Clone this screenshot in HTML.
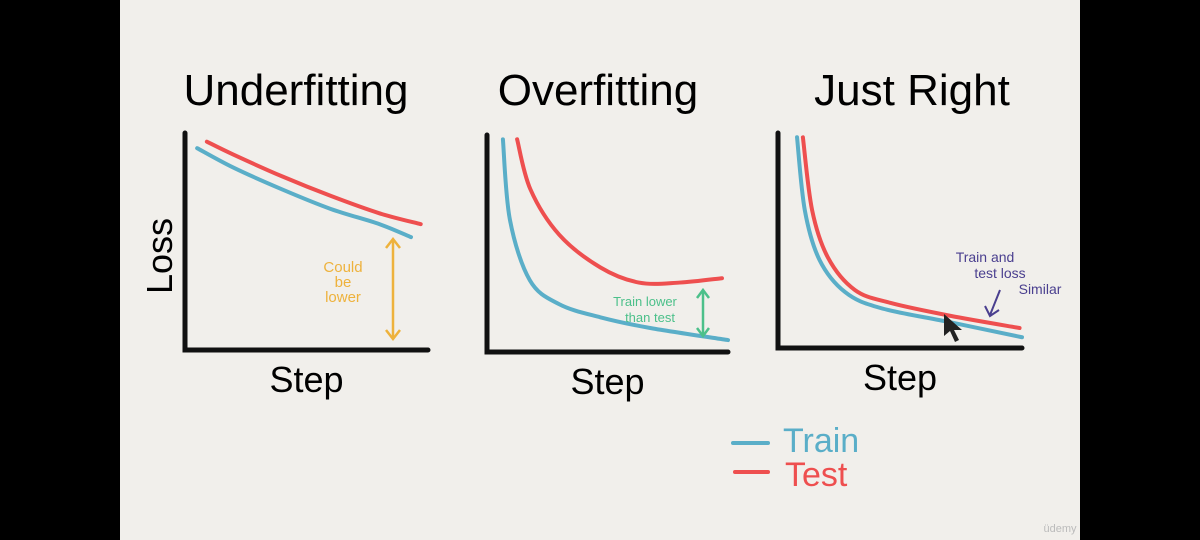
<!DOCTYPE html>
<html><head><meta charset="utf-8"><style>
html,body{margin:0;padding:0;background:#000;}
svg{display:block;}
text{font-family:"Liberation Sans",sans-serif;}
</style></head><body>
<svg id="chart" width="1200" height="540" viewBox="0 0 1200 540">
<rect x="0" y="0" width="1200" height="540" fill="#000"/>
<rect x="120" y="0" width="960" height="540" fill="#f1efeb"/>
<text x="296" y="105" font-size="44" text-anchor="middle">Underfitting</text>
<text x="598" y="105" font-size="44" text-anchor="middle">Overfitting</text>
<text x="912" y="105" font-size="44" text-anchor="middle">Just Right</text>
<text x="0" y="0" font-size="36" transform="translate(172,256) rotate(-90)" text-anchor="middle">Loss</text>
<g id="panels"></g>
<g>
<line x1="393" y1="240" x2="393" y2="338" stroke="#eeb23c" stroke-width="2.5"/>
<path d="M386 248 L393 239 L400 248 M386 330 L393 339 L400 330" fill="none" stroke="#eeb23c" stroke-width="2.5"/>
<text x="343" y="272" font-size="15" fill="#eeb23c" text-anchor="middle">Could</text>
<text x="343" y="287" font-size="15" fill="#eeb23c" text-anchor="middle">be</text>
<text x="343" y="302" font-size="15" fill="#eeb23c" text-anchor="middle">lower</text>
</g>
<g>
<line x1="703" y1="291" x2="703" y2="335" stroke="#4cc08a" stroke-width="2.5"/>
<path d="M697 298 L703 290 L709 298 M697 328 L703 336 L709 328" fill="none" stroke="#4cc08a" stroke-width="2.5"/>
<text x="645" y="306" font-size="13" fill="#4cc08a" text-anchor="middle">Train lower</text>
<text x="650" y="322" font-size="13" fill="#4cc08a" text-anchor="middle">than test</text>
</g>
<g>
<text x="985" y="262" font-size="14" fill="#4a3f8f" text-anchor="middle">Train and</text>
<text x="1000" y="278" font-size="14" fill="#4a3f8f" text-anchor="middle">test loss</text>
<text x="1040" y="294" font-size="14" fill="#4a3f8f" text-anchor="middle">Similar</text>
<path d="M1000 290 L990 315 M985 306 L990 316 L999 310" fill="none" stroke="#4a3f8f" stroke-width="2"/>
</g>
<path d="M944 314 L944 336 L950 331 L955 342 L959 340 L954 330 L962 330 Z" fill="#222"/>
<g>
<line x1="733" y1="443" x2="768" y2="443" stroke="#5aaec8" stroke-width="4" stroke-linecap="round"/>
<text x="783" y="452" font-size="34" fill="#5aaec8">Train</text>
<line x1="735" y1="472" x2="768" y2="472" stroke="#ee4f4f" stroke-width="4" stroke-linecap="round"/>
<text x="785" y="486" font-size="34" fill="#ee4f4f">Test</text>
</g>
<text x="1060" y="532" font-size="11" fill="#bbb" text-anchor="middle">üdemy</text>
</svg>
<script>
// Underfitting
const p1TrainSteps=[0.5,2,4,6,8,9.3];
const p1TrainLoss=[9.3,8.4,7.4,6.5,5.8,5.2];
const p1TestSteps=[0.9,2,4,6,8,9.7];
const p1TestLoss=[9.6,9.0,8.0,7.1,6.3,5.8];
// Overfitting
const p2TrainSteps=[0.66,0.95,1.78,3.0,4.7,6.8,10];
const p2TrainLoss=[9.8,6.1,3.3,2.2,1.6,1.1,0.55];
const p2TestSteps=[1.25,1.8,3.0,4.7,6.3,8.0,9.75];
const p2TestLoss=[9.8,7.5,5.4,3.9,3.2,3.2,3.4];
// Just right
const p3TrainSteps=[0.78,1.1,1.7,2.75,4.2,7.05,10];
const p3TrainLoss=[9.8,6.4,4.1,2.6,1.86,1.2,0.5];
const p3TestSteps=[1.02,1.4,2.05,3.15,4.6,7.05,9.9];
const p3TestLoss=[9.8,6.4,4.2,2.7,2.1,1.5,0.93];

const panels=[
 {name:'underfitting',x0:185,x1:428,y0:350,y1:133,tr:[p1TrainSteps,p1TrainLoss],te:[p1TestSteps,p1TestLoss]},
 {name:'overfitting',x0:487,x1:728,y0:352,y1:135,tr:[p2TrainSteps,p2TrainLoss],te:[p2TestSteps,p2TestLoss]},
 {name:'just-right',x0:778,x1:1022,y0:348,y1:133,tr:[p3TrainSteps,p3TrainLoss],te:[p3TestSteps,p3TestLoss]}
];
const NS='http://www.w3.org/2000/svg';
const g=document.getElementById('panels');
function smooth(pts){
 let d='M'+pts[0][0]+' '+pts[0][1];
 for(let i=0;i<pts.length-1;i++){
  const p0=pts[Math.max(0,i-1)],p1=pts[i],p2=pts[i+1],p3=pts[Math.min(pts.length-1,i+2)];
  const c1=[p1[0]+(p2[0]-p0[0])/6,p1[1]+(p2[1]-p0[1])/6];
  const c2=[p2[0]-(p3[0]-p1[0])/6,p2[1]-(p3[1]-p1[1])/6];
  d+=' C'+c1[0]+' '+c1[1]+' '+c2[0]+' '+c2[1]+' '+p2[0]+' '+p2[1];
 }
 return d;
}
panels.forEach(p=>{
 const xs=s=>p.x0+s/10*(p.x1-p.x0);
 const ys=l=>p.y0-l/10*(p.y0-p.y1);
 const ax=document.createElementNS(NS,'path');
 ax.setAttribute('d','M'+p.x0+' '+p.y1+' L'+p.x0+' '+p.y0+' L'+p.x1+' '+p.y0);
 ax.setAttribute('fill','none');ax.setAttribute('stroke','#111');ax.setAttribute('stroke-width','5');ax.setAttribute('stroke-linecap','round');
 
 
 g.appendChild(ax);
 [['train',p.tr,'#5aaec8'],['test',p.te,'#ee4f4f']].forEach(([n,arr,c])=>{
  const pts=arr[0].map((s,i)=>[xs(s),ys(arr[1][i])]);
  const pa=document.createElementNS(NS,'path');
  pa.setAttribute('d',smooth(pts));
  pa.setAttribute('fill','none');pa.setAttribute('stroke',c);pa.setAttribute('stroke-width','4');pa.setAttribute('stroke-linecap','round');
  
  
  g.appendChild(pa);
 });
 const t=document.createElementNS(NS,'text');
 t.setAttribute('x',(p.x0+p.x1)/2);t.setAttribute('y',p.y0+42);
 t.setAttribute('font-size','36');t.setAttribute('text-anchor','middle');
 t.textContent='Step';
 
 
 g.appendChild(t);
});
</script>
</body></html>
